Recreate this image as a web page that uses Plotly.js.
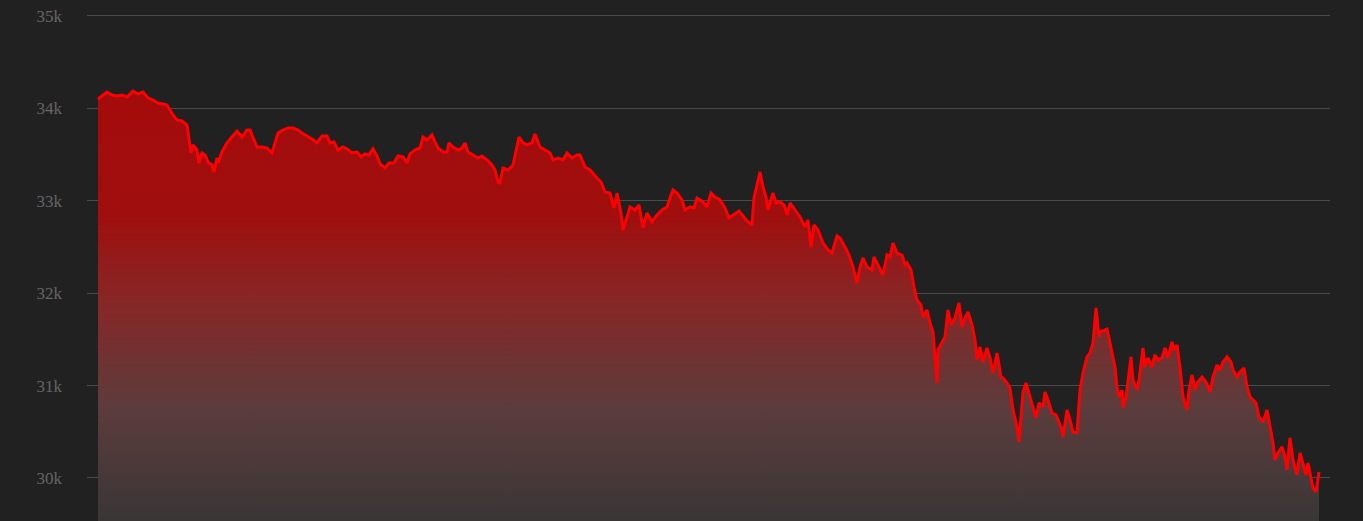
<!DOCTYPE html>
<html>
<head>
<meta charset="utf-8">
<script src="https://cdn.plot.ly/plotly-3.0.1.min.js"></script>
<style>
  html, body { margin: 0; padding: 0; background: #212121; }
  #chart { width: 1363px; height: 521px; }
</style>
</head>
<body>
<div id="chart"></div>
<script>
// Time in minutes since the start of the series
const minutes = [
  0,4,9,14,19,24,29,35,40,45,50,55,60,65,69,72,75,79,84,89,91,93,95,99,101,104,107,110,114,116,119,120,124,129,134,139,144,149,152,155,159,164,169,174,177,180,185,190,195,200,
  204,209,214,219,224,229,232,236,240,245,249,254,259,263,267,271,275,279,282,287,291,296,300,305,309,312,317,322,325,329,334,337,340,345,349,351,355,360,364,367,370,375,380,384,389,394,397,400,
  402,405,410,415,418,421,425,429,434,437,442,447,452,455,460,465,469,474,479,482,487,492,496,499,503,507,512,516,519,523,525,529,532,537,541,545,549,554,559,564,569,572,575,579,584,587,592,596,599,
  605,609,613,617,622,627,631,635,641,645,649,654,656,659,662,665,668,670,675,678,682,686,689,692,697,702,707,710,713,716,720,725,730,734,739,742,747,751,755,759,762,765,769,774,776,780,785,789,792,
  795,799,804,807,809,813,816,819,823,825,829,832,835,839,840,844,847,850,853,857,861,864,867,870,874,877,879,882,885,889,892,895,899,903,905,909,912,915,919,921,925,928,931,935,938,941,945,947,950,954,958,960,964,965,969,972,975,979,982,985,989,992,995,998,1001,
  1002,1007,1009,1012,1015,1017,1019,1021,1024,1025,1028,1030,1033,1035,1039,1041,1045,1047,1050,1054,1057,1060,1064,1067,1070,1074,1076,1079,1082,1085,1089,1091,1094,1097,1100,1104,1108,1112,1115,1119,1122,1125,1129,1133,1135,1139,1142,1146,1149,1152,1155,1158,1161,1165,1169,1172,1175,1177,1180,1184,1187,1189,1192,1195,1199,1202,1205,1208,1210,1213,1215,1218,1220,1221
];

// Price in USD
const prices = [
  34102,34134,34177,34145,34134,34145,34123,34188,34156,34177,34113,34091,34058,34048,34037,33983,33929,33875,33864,33820,33658,33517,33604,33550,33409,33517,33496,33420,33387,33312,33463,33409,33528,33626,33690,33755,33690,33766,33766,33690,33582,33582,33571,33517,33626,33734,33766,33788,33788,33766,
  33734,33701,33669,33626,33701,33701,33626,33636,33550,33582,33561,33517,33528,33474,33507,33496,33561,33485,33398,33355,33409,33409,33485,33474,33409,33507,33550,33571,33690,33658,33712,33636,33571,33528,33528,33626,33582,33550,33571,33626,33528,33496,33463,33485,33442,33387,33333,33203,
  33193,33355,33333,33387,33550,33690,33626,33604,33626,33723,33582,33550,33517,33442,33463,33442,33517,33463,33496,33496,33366,33333,33279,33247,33203,33095,33084,32922,33084,32868,32684,32814,32933,32900,32954,32706,32868,32771,32846,32900,32933,33030,33117,33084,33009,32900,32933,32922,33030,
  32987,32933,33084,33041,33009,32922,32814,32846,32890,32835,32781,32738,33030,33171,33312,33149,33041,32900,33084,32976,32987,32954,32846,32976,32900,32825,32717,32792,32500,32738,32684,32543,32467,32435,32619,32597,32500,32413,32283,32110,32283,32381,32283,32251,32392,32305,32197,32413,32392,
  32543,32435,32413,32305,32327,32251,32067,31926,31872,31742,31818,31677,31580,31028,31385,31461,31526,31818,31656,31731,31894,31634,31731,31796,31656,31493,31277,31418,31255,31407,31299,31136,31353,31093,31082,31028,30974,30736,30552,30390,30931,31028,30920,30768,30649,30812,30768,30931,30844,30703,30682,30628,30520,30444,30736,30628,30498,30487,30952,31136,31309,31353,31461,31840,31526,
  31580,31602,31612,31461,31277,31201,30985,30877,30952,30758,30877,31028,31309,31060,30952,31060,31407,31201,31299,31201,31331,31277,31299,31407,31299,31472,31385,31439,31201,30877,30736,30952,31115,30952,31039,31093,31039,30931,31093,31223,31169,31255,31309,31255,31169,31093,31147,31190,30985,30877,30844,30812,30660,30606,30736,30552,30379,30195,30271,30336,30228,30087,30433,30195,30033,30271,30162,30033,30162,30011,29892,29849,30011,30065
];

const yTicks = [30000, 31000, 32000, 33000, 34000, 35000];
const yTickLabels = ['30k', '31k', '32k', '33k', '34k', '35k'];

const trace = {
  x: minutes,
  y: prices,
  type: 'scatter',
  mode: 'lines',
  line: { color: '#ff0000', width: 3, shape: 'linear' },
  fill: 'tozeroy',
  fillgradient: {
    type: 'vertical',
    start: 29534,
    stop: 33900,
    colorscale: [
      [0, 'rgb(58,54,54)'],
      [0.28, 'rgb(92,60,60)'],
      [0.55, 'rgb(136,38,38)'],
      [0.76, 'rgb(160,14,14)'],
      [1, 'rgb(164,12,12)']
    ]
  },
  hoverinfo: 'skip'
};

const layout = {
  width: 1363,
  height: 521,
  margin: { l: 87, r: 33, t: 0, b: 0, pad: 0 },
  paper_bgcolor: '#212121',
  plot_bgcolor: '#212121',
  showlegend: false,
  xaxis: {
    range: [-11, 1232],
    showgrid: false,
    zeroline: false,
    showline: false,
    showticklabels: false,
    ticks: ''
  },
  yaxis: {
    range: [29534, 35173],
    tickvals: yTicks,
    ticktext: yTickLabels,
    showgrid: true,
    gridcolor: '#4a4a4a',
    gridwidth: 1,
    zeroline: false,
    showline: false,
    ticks: '',
    ticklabelstandoff: 24,
    tickfont: { family: 'Liberation Serif, DejaVu Serif, serif', size: 17, color: '#656565' }
  }
};

Plotly.newPlot('chart', [trace], layout, { staticPlot: true, displayModeBar: false });
</script>
</body>
</html>
